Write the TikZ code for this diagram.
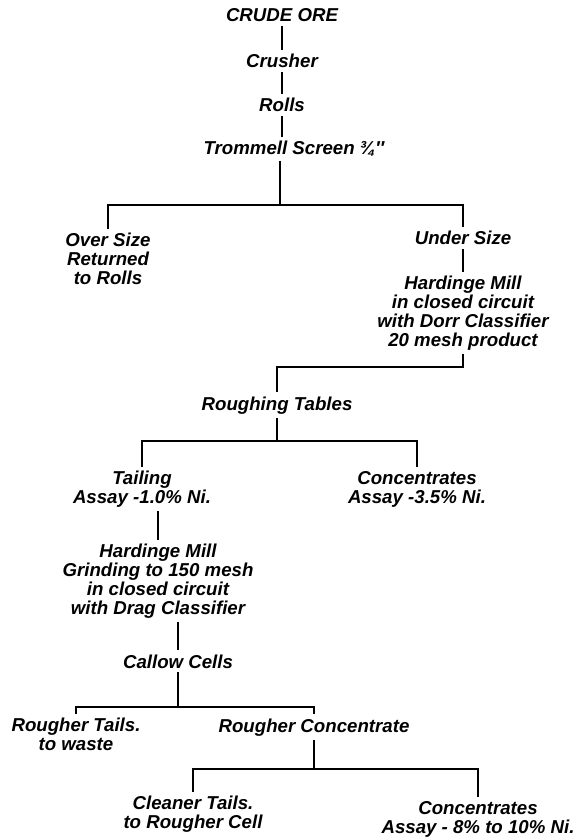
\documentclass[tikz,border=0pt]{standalone}
\usepackage{fontspec}
\setmainfont{Liberation Sans}
\begin{document}
\begin{tikzpicture}[x=0.75pt,y=-0.75pt,line width=1.4pt,
every node/.style={font=\fontsize{14}{14.25}\selectfont\bfseries\itshape,inner sep=1pt,outer sep=2pt},
blk/.style={align=center,anchor=north},
one/.style={anchor=base}]
\useasboundingbox (0,0) rectangle (576,837);
\node[one] (ore) at (282,22) {CRUDE ORE};
\node[one] (crush) at (282,68) {Crusher};
\node[one] (rolls) at (282,112) {Rolls};
\node[one] (trom) at (294,155) {Trommell Screen ¾″};
\draw (ore)--(crush);
\draw (crush)--(rolls);
\draw (rolls)--(rolls|-trom.north);
\coordinate (j1) at (280,205);
\node[blk] (over) at (108,229) {Over Size\\Returned\\to Rolls};
\node[one] (under) at (463,245) {Under Size};
\node[blk] (hm1) at (463,272) {Hardinge Mill\\in closed circuit\\with Dorr Classifier\\20 mesh product};
\draw (trom.south-|j1)--(j1);
\draw (over)|-(j1)-|(under);
\draw (under)--(hm1);
\node[one] (rough) at (277,410) {Roughing Tables};
\coordinate (j2) at (277,367);
\draw (hm1)|-(j2)--(rough);
\coordinate (j3) at (277,441);
\node[blk] (tail) at (142,467) {Tailing\\Assay -1.0\% Ni.};
\node[blk] (conc1) at (417,467) {Concentrates\\Assay -3.5\% Ni.};
\draw (rough)--(j3);
\draw (tail)|-(j3)-|(conc1);
\node[blk] (hm2) at (158,540) {Hardinge Mill\\Grinding to 150 mesh\\in closed circuit\\with Drag Classifier};
\draw (tail.south-|hm2)--(hm2);
\node[one] (call) at (178,668) {Callow Cells};
\draw (hm2.south-|call)--(call);
\coordinate (j4) at (178,707);
\node[blk] (rtail) at (76,714) {Rougher Tails.\\to waste};
\node[one] (rconc) at (314,732) {Rougher Concentrate};
\draw (call)--(j4);
\draw (rtail)|-(j4)-|(rconc);
\coordinate (j5) at (314,769);
\node[blk] (clean) at (193,792) {Cleaner Tails.\\to Rougher Cell};
\node[blk] (conc2) at (478,797) {Concentrates\\Assay - 8\% to 10\% Ni.};
\draw (rconc)--(j5);
\draw (clean)|-(j5)-|(conc2);
\end{tikzpicture}
\end{document}
